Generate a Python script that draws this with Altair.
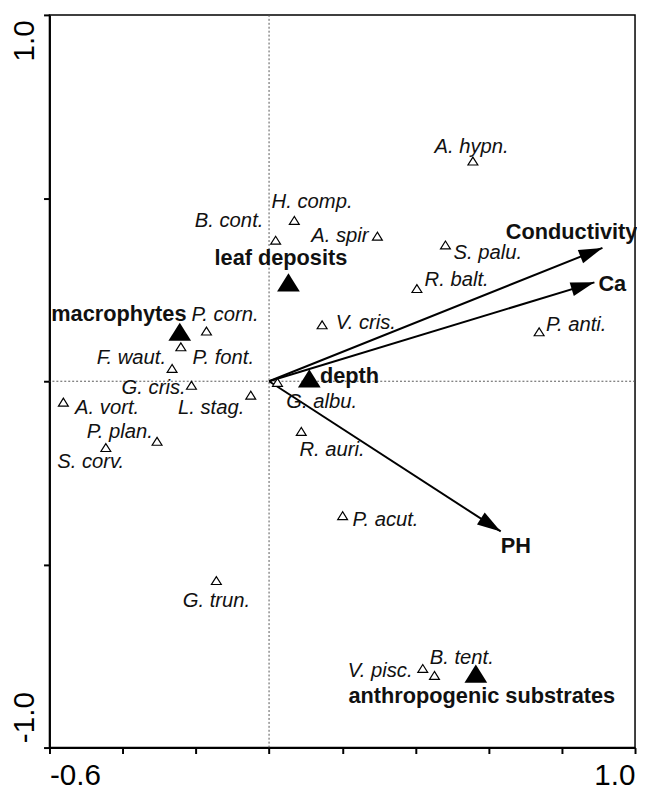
import math
import altair as alt
import pandas as pd

# ---------------- data ----------------
species = ["A. hypn.", "H. comp.", "B. cont.", "A. spir", "S. palu.", "R. balt.",
           "V. cris.", "P. anti.", "P. corn.", "P. font.", "F. waut.", "G. cris.",
           "G. albu.", "A. vort.", "L. stag.", "P. plan.", "R. auri.", "S. corv.",
           "P. acut.", "G. trun.", "V. pisc.", "B. tent."]
sp_x = [0.557, 0.069, 0.018, 0.296, 0.482, 0.404, 0.145, 0.738, -0.171, -0.241, -0.265,
        -0.212, 0.023, -0.562, -0.050, -0.306, 0.088, -0.446, 0.201, -0.144, 0.420, 0.452]
sp_y = [0.601, 0.439, 0.385, 0.396, 0.372, 0.253, 0.154, 0.135, 0.137, 0.094, 0.035,
        -0.011, -0.003, -0.057, -0.038, -0.164, -0.137, -0.181, -0.367, -0.544, -0.784, -0.803]
sp_lx = [0.452, 0.007, -0.203, 0.115, 0.504, 0.425, 0.182, 0.757, -0.212, -0.209, -0.471,
         -0.403, 0.047, -0.530, -0.249, -0.498, 0.083, -0.579, 0.228, -0.236, 0.215, 0.439]
sp_ly = [0.623, 0.474, 0.420, 0.380, 0.334, 0.259, 0.143, 0.137, 0.164, 0.046, 0.046,
         -0.035, -0.073, -0.089, -0.089, -0.154, -0.205, -0.237, -0.394, -0.617, -0.806, -0.771]

env_names = ["leaf deposits", "macrophytes", "depth", "anthropogenic substrates"]
env_x = [0.053, -0.244, 0.110, 0.565]
env_y = [0.270, 0.135, 0.008, -0.798]
env_lx = [-0.149, -0.595, 0.139, 0.217]
env_ly = [0.318, 0.164, -0.005, -0.879]

vec_names = ["Conductivity", "Ca", "PH"]
vec_x = [0.911, 0.889, 0.633]
vec_y = [0.364, 0.270, -0.410]
vec_lx = [0.647, 0.900, 0.633]
vec_ly = [0.388, 0.245, -0.469]

x_ticks = [-0.6, -0.4, -0.2, 0.0, 0.2, 0.4, 0.6, 0.8, 1.0]
y_ticks = [-1.0, -0.5, 0.0, 0.5, 1.0]

# ---------------- layout ----------------
W, H = 593, 742
XMIN, XMAX, YMIN, YMAX = -0.6, 1.0, -1.0, 1.0
px_x = W / (XMAX - XMIN)
px_y = H / (YMAX - YMIN)

FONT = "Liberation Sans"

sp_df = pd.DataFrame({"name": species, "x": sp_x, "y": sp_y, "lx": sp_lx, "ly": sp_ly})
env_df = pd.DataFrame({"name": env_names, "x": env_x, "y": env_y, "lx": env_lx, "ly": env_ly})
vec_df = pd.DataFrame({"name": vec_names, "x": vec_x, "y": vec_y, "lx": vec_lx, "ly": vec_ly})
vec_df["x0"] = 0.0
vec_df["y0"] = 0.0
vec_df["angle"] = [math.degrees(math.atan2(a * px_x, b * px_y)) % 360 for a, b in zip(vec_x, vec_y)]
zero_df = pd.DataFrame({"v": [0.0]})

xscale = alt.Scale(domain=[XMIN, XMAX], nice=False, zero=False)
yscale = alt.Scale(domain=[YMIN, YMAX], nice=False, zero=False)

xaxis = alt.Axis(
    values=x_ticks,
    labelExpr="(datum.value < -0.59 || datum.value > 0.99) ? (datum.value < 0 ? '-' : '') + format(abs(datum.value), '.1f') : ''",
    labelFlush=True, tickSize=6, tickWidth=2, tickColor="black",
    domainColor="black", domainWidth=2, labelFontSize=30, labelFont=FONT,
    labelColor="black", labelPadding=7, grid=False, title=None,
)
yaxis = alt.Axis(
    values=y_ticks,
    labelExpr="abs(datum.value) > 0.99 ? (datum.value < 0 ? '-' : '') + format(abs(datum.value), '.1f') : ''",
    labelAngle=270,
    labelAlign=alt.condition("datum.value > 0", alt.value("right"), alt.value("left")),
    labelOffset=alt.condition("datum.value > 0", alt.value(5), alt.value(-5)),
    labelBaseline="alphabetic",
    tickSize=6, tickWidth=2, tickColor="black",
    domainColor="black", domainWidth=2, labelFontSize=30, labelFont=FONT,
    labelColor="black", labelPadding=10, grid=False, title=None,
)


def X(f):
    return alt.X(f, type="quantitative", scale=xscale, axis=xaxis)


def Y(f):
    return alt.Y(f, type="quantitative", scale=yscale, axis=yaxis)


open_tri = "M0,-0.8 L-1,0.8 L1,0.8 Z"
arrow_head = "M0,0 L-0.6,2 L0.6,2 Z"

zero_v = alt.Chart(zero_df).mark_rule(color="#555", strokeWidth=1, strokeDash=[2, 2]).encode(x=X("v"))
zero_h = alt.Chart(zero_df).mark_rule(color="#555", strokeWidth=1, strokeDash=[2, 2]).encode(y=Y("v"))

shafts = alt.Chart(vec_df).mark_rule(color="black", strokeWidth=2).encode(
    x=X("x0"), y=Y("y0"), x2=alt.X2("x"), y2=alt.Y2("y"))

heads = alt.Chart(vec_df).mark_point(shape=arrow_head, filled=True, color="black", size=576, opacity=1).encode(
    x=X("x"), y=Y("y"), angle=alt.Angle("angle:Q", scale=None))

sp_pts = alt.Chart(sp_df).mark_point(shape=open_tri, filled=True, fill="white", stroke="black",
                                     strokeWidth=1.2, size=100, opacity=1).encode(x=X("x"), y=Y("y"))

env_pts = alt.Chart(env_df).mark_point(shape=open_tri, filled=True, color="black", size=529, opacity=1).encode(
    x=X("x"), y=Y("y"))

sp_txt = alt.Chart(sp_df).mark_text(align="left", baseline="alphabetic", font=FONT, fontStyle="italic",
                                    fontSize=20.5, color="#111").encode(x=X("lx"), y=Y("ly"), text="name")

env_txt = alt.Chart(env_df).mark_text(align="left", baseline="alphabetic", font=FONT, fontWeight="bold",
                                      fontSize=22, color="#111").encode(x=X("lx"), y=Y("ly"), text="name")

vec_txt = alt.Chart(vec_df).mark_text(align="left", baseline="alphabetic", font=FONT, fontWeight="bold",
                                      fontSize=22, color="#111").encode(x=X("lx"), y=Y("ly"), text="name")

chart = alt.layer(zero_v, zero_h, shafts, heads, sp_pts, env_pts, sp_txt, env_txt, vec_txt).properties(
    width=W, height=H,
    autosize=alt.AutoSizeParams(type="none"),
    padding={"left": 42, "top": 2, "right": 2, "bottom": 40},
    background="white",
).configure_view(stroke="black", strokeWidth=1.5)

chart.save("out.html", embed_options={"renderer": "svg", "actions": False})
